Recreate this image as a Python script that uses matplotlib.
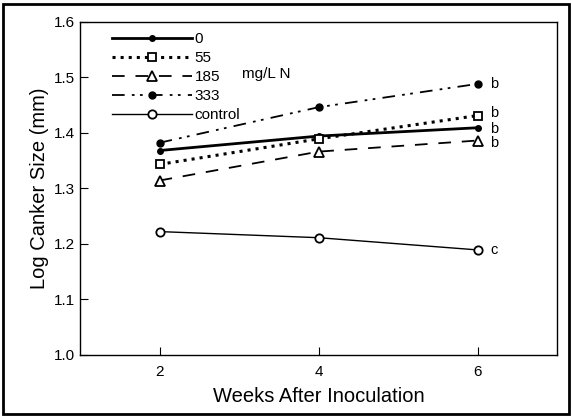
import matplotlib
matplotlib.use("Agg")
import matplotlib.pyplot as plt
from matplotlib.patches import Rectangle

weeks = [2, 4, 6]
n0 = [1.368, 1.394, 1.409]
n55 = [1.343, 1.389, 1.431]
n185 = [1.314, 1.366, 1.386]
n333 = [1.382, 1.446, 1.488]
control = [1.222, 1.211, 1.189]
letters = ["b", "b", "b", "b", "c"]

plt.rcParams["font.family"] = "Liberation Sans"

fig = plt.figure(figsize=(5.72, 4.17), dpi=100)
ax = fig.add_axes([0.140, 0.149, 0.834, 0.799])

ax.plot(weeks, n0, "-", color="black", lw=2, marker="o", ms=4, mfc="black", label="0")
ax.plot(weeks, n55, ":", color="black", lw=2.2, marker="s", ms=6, mfc="white", mew=1.3, label="55")
ax.plot(weeks, n185, color="black", lw=1.3, dashes=(7, 6), marker="^", ms=7, mfc="white", mew=1.3, label="185")
ax.plot(weeks, n333, color="black", lw=1.3, dashes=(7, 4, 1.5, 3, 1.5, 4), marker="o", ms=5, mfc="black", label="333")
ax.plot(weeks, control, "-", color="black", lw=1, marker="o", ms=6, mfc="white", mew=1.3, label="control")

# letter labels at the week-6 points (small nudges keep stacked ones apart)
nudge = [0, 2, -1, -2, 0]
for series, lab, dy in zip([n333, n55, n0, n185, control], letters, nudge):
    ax.annotate(lab, (weeks[-1], series[-1]), xytext=(9, dy), textcoords="offset points",
                va="center", ha="left", fontsize=10.5)

leg = ax.legend(loc="upper left", bbox_to_anchor=(0.045, 1.0), frameon=False, fontsize=11,
                handlelength=5.2, handletextpad=0.2, labelspacing=0.32, borderaxespad=0.3)
ax.text(0.34, 0.843, "mg/L N", transform=ax.transAxes, fontsize=11, va="center")

ax.set_xlim(1, 7)
ax.set_ylim(1.0, 1.6)
ax.set_xticks([2, 4, 6])
ax.set_yticks([1.0, 1.1, 1.2, 1.3, 1.4, 1.5, 1.6])
ax.set_yticklabels(["1.0", "1.1", "1.2", "1.3", "1.4", "1.5", "1.6"])
ax.tick_params(direction="in", length=6, labelsize=11, top=False, right=False)
ax.tick_params(axis="x", pad=7)
ax.set_xlabel("Weeks After Inoculation", fontsize=14.5, labelpad=6)
ax.set_ylabel("Log Canker Size (mm)", fontsize=14.5)
for s in ax.spines.values():
    s.set_linewidth(1)

fig.patches.append(Rectangle((0.006, 0.008), 0.988, 0.982, transform=fig.transFigure,
                             fill=False, lw=2, edgecolor="black"))

fig.savefig("out.png", dpi=100)
